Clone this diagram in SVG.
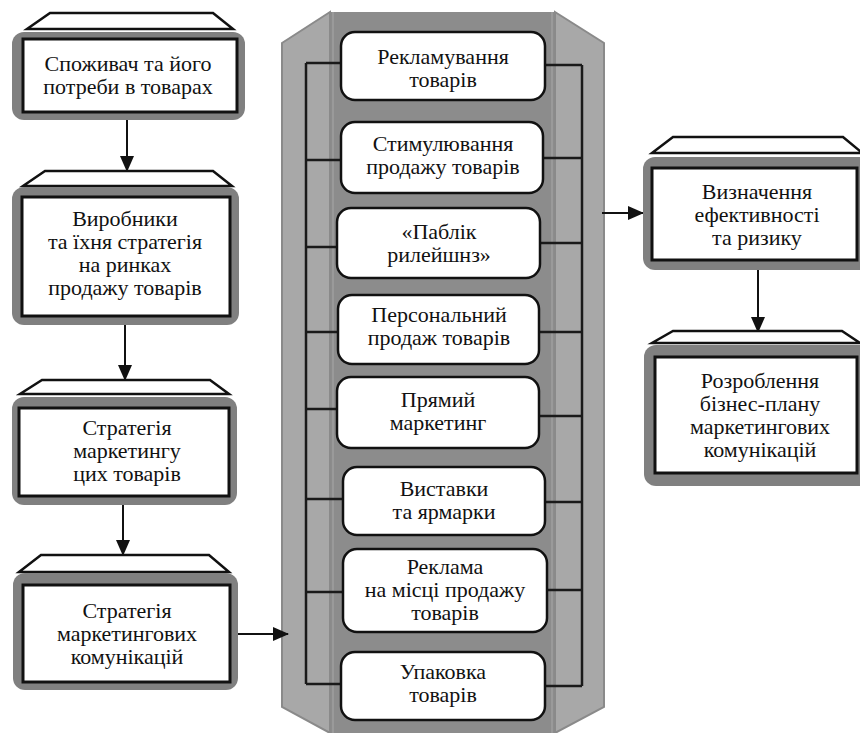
<svg xmlns="http://www.w3.org/2000/svg" width="860" height="733" viewBox="0 0 860 733" font-family="Liberation Serif, DejaVu Serif, serif">
<style>
text{font-size:22px;fill:#111;text-anchor:middle}
.trap{fill:#fff;stroke:#111;stroke-width:2.5;stroke-linejoin:miter}
.shadow{fill:#808080}
.inner{fill:#fff;stroke:#111;stroke-width:3}
.pill{fill:#fff;stroke:#111;stroke-width:2.5}
.ln{stroke:#1a1a1a;stroke-width:2.5;fill:none}
.side{fill:#a8a8a8;stroke:#8a8a8a;stroke-width:2}
</style>
<defs>
<marker id="ah" markerUnits="userSpaceOnUse" markerWidth="16" markerHeight="14" refX="15" refY="7" orient="auto">
<path d="M0,0 L16,7 L0,14 Z" fill="#111"/>
</marker>
</defs>

<g id="panel">
<rect x="330" y="12" width="225" height="721" fill="#8c8c8c"/>
<polygon class="side" points="282,43 330,12 330,733 282,707"/>
<polygon class="side" points="555,12 604,43 604,707 555,733"/>
<line x1="333" y1="12" x2="333" y2="733" stroke="#9a9a9a" stroke-width="2"/>
<line x1="552" y1="12" x2="552" y2="733" stroke="#9a9a9a" stroke-width="2"/>
</g>

<g id="connectors">
<line class="ln" x1="306" y1="63" x2="306" y2="684"/>
<line class="ln" x1="582" y1="65" x2="582" y2="686"/>
<line class="ln" x1="306" y1="63" x2="341" y2="63"/>
<line class="ln" x1="545" y1="65" x2="582" y2="65"/>
<line class="ln" x1="306" y1="160" x2="341" y2="160"/>
<line class="ln" x1="543" y1="158" x2="582" y2="158"/>
<line class="ln" x1="306" y1="247" x2="337" y2="247"/>
<line class="ln" x1="540" y1="243" x2="582" y2="243"/>
<line class="ln" x1="306" y1="332" x2="338" y2="332"/>
<line class="ln" x1="539" y1="332" x2="582" y2="332"/>
<line class="ln" x1="306" y1="409" x2="337" y2="409"/>
<line class="ln" x1="539" y1="416" x2="582" y2="416"/>
<line class="ln" x1="306" y1="499" x2="343" y2="499"/>
<line class="ln" x1="545" y1="502" x2="582" y2="502"/>
<line class="ln" x1="306" y1="592" x2="343" y2="592"/>
<line class="ln" x1="547" y1="590" x2="582" y2="590"/>
<line class="ln" x1="306" y1="684" x2="341" y2="684"/>
<line class="ln" x1="545" y1="686" x2="582" y2="686"/>
<line x1="127" y1="120" x2="127" y2="171" stroke="#111" stroke-width="2" marker-end="url(#ah)"/>
<line x1="125" y1="325" x2="125" y2="380" stroke="#111" stroke-width="2" marker-end="url(#ah)"/>
<line x1="123" y1="505" x2="123" y2="555" stroke="#111" stroke-width="2" marker-end="url(#ah)"/>
<line x1="238" y1="634" x2="288" y2="634" stroke="#111" stroke-width="2" marker-end="url(#ah)"/>
<line x1="602" y1="213" x2="643" y2="213" stroke="#111" stroke-width="2" marker-end="url(#ah)"/>
<line x1="758" y1="270" x2="758" y2="332" stroke="#111" stroke-width="2" marker-end="url(#ah)"/>
</g>

<g id="n1">
<polygon class="trap" points="50,13 213,13 233,29 27,29"/>
<rect class="shadow" x="12" y="32" width="233" height="88" rx="12"/>
<rect class="inner" x="23" y="39" width="214" height="73"/>
<text x="128" y="71">Споживач та його</text>
<text x="128" y="94">потреби в товарах</text>
</g>

<g id="n2">
<polygon class="trap" points="45,171 213,171 232,186 23,186"/>
<rect class="shadow" x="12" y="187" width="227" height="138" rx="12"/>
<rect class="inner" x="22" y="197" width="208" height="119"/>
<text x="125" y="226">Виробники</text>
<text x="125" y="249">та їхня стратегія</text>
<text x="125" y="272">на ринках</text>
<text x="125" y="295">продажу товарів</text>
</g>

<g id="n3">
<polygon class="trap" points="42,380 210,380 229,394 20,394"/>
<rect class="shadow" x="12" y="397" width="225" height="108" rx="12"/>
<rect class="inner" x="19" y="408" width="210" height="88"/>
<text x="127" y="435">Стратегія</text>
<text x="127" y="458">маркетингу</text>
<text x="127" y="481">цих товарів</text>
</g>

<g id="n4">
<polygon class="trap" points="41,555 209,555 229,572 19,572"/>
<rect class="shadow" x="13" y="573" width="225" height="117" rx="12"/>
<rect class="inner" x="23" y="585" width="207" height="97"/>
<text x="127" y="618">Стратегія</text>
<text x="127" y="641">маркетингових</text>
<text x="127" y="664">комунікацій</text>
</g>

<g id="c1">
<rect class="pill" x="341" y="32" width="204" height="68" rx="14"/>
<text x="443" y="64">Рекламування</text>
<text x="443" y="87">товарів</text>
</g>
<g id="c2">
<rect class="pill" x="341" y="122" width="202" height="71" rx="14"/>
<text x="443" y="151">Стимулювання</text>
<text x="443" y="174">продажу товарів</text>
</g>
<g id="c3">
<rect class="pill" x="337" y="208" width="203" height="70" rx="14"/>
<text x="439" y="239">«Паблік</text>
<text x="439" y="262">рилейшнз»</text>
</g>
<g id="c4">
<rect class="pill" x="338" y="295" width="201" height="69" rx="14"/>
<text x="439" y="322">Персональний</text>
<text x="439" y="345">продаж товарів</text>
</g>
<g id="c5">
<rect class="pill" x="337" y="377" width="202" height="71" rx="14"/>
<text x="438" y="407">Прямий</text>
<text x="438" y="430">маркетинг</text>
</g>
<g id="c6">
<rect class="pill" x="343" y="467" width="202" height="68" rx="14"/>
<text x="444" y="496">Виставки</text>
<text x="444" y="519">та ярмарки</text>
</g>
<g id="c7">
<rect class="pill" x="343" y="549" width="204" height="83" rx="14"/>
<text x="445" y="574">Реклама</text>
<text x="445" y="597">на місці продажу</text>
<text x="445" y="620">товарів</text>
</g>
<g id="c8">
<rect class="pill" x="341" y="652" width="204" height="68" rx="14"/>
<text x="443" y="679">Упаковка</text>
<text x="443" y="702">товарів</text>
</g>

<g id="n5">
<polygon class="trap" points="673,137 843,137 860,151 860,153 652,153"/>
<rect class="shadow" x="643" y="157" width="230" height="113" rx="12"/>
<rect class="inner" x="652" y="168" width="205" height="92"/>
<text x="757" y="199">Визначення</text>
<text x="757" y="222">ефективності</text>
<text x="757" y="245">та ризику</text>
</g>

<g id="n6">
<polygon class="trap" points="673,331 842,331 860,343 652,343"/>
<rect class="shadow" x="644" y="345" width="230" height="141" rx="12"/>
<rect class="inner" x="655" y="357" width="202" height="116"/>
<text x="760" y="388">Розроблення</text>
<text x="760" y="411">бізнес-плану</text>
<text x="760" y="434">маркетингових</text>
<text x="760" y="457">комунікацій</text>
</g>
</svg>
